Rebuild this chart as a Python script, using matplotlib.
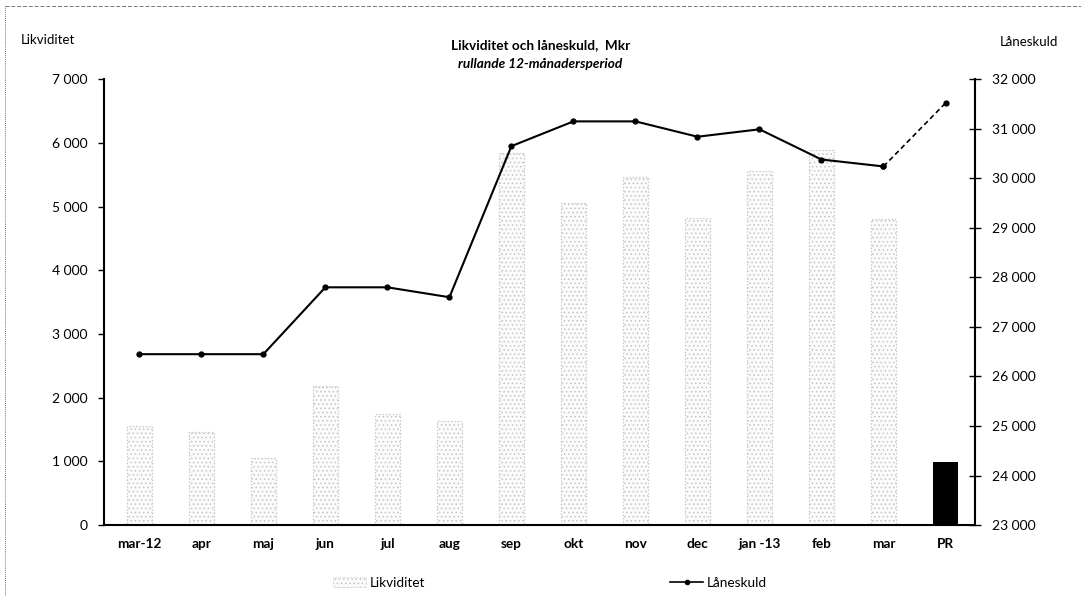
import matplotlib.pyplot as plt
from matplotlib.lines import Line2D
from matplotlib.patches import Patch

# data
months = ['mar-12', 'apr', 'maj', 'jun', 'jul', 'aug', 'sep', 'okt',
          'nov', 'dec', 'jan -13', 'feb', 'mar', 'PR']
likviditet = [1560, 1460, 1060, 2190, 1750, 1630, 5850, 5050,
              5470, 4820, 5560, 5890, 4800, 990]
laneskuld = [26450, 26450, 26450, 27800, 27800, 27600, 30650, 31150,
             31150, 30840, 30990, 30380, 30240, 31520]

left_ticks = [0, 1000, 2000, 3000, 4000, 5000, 6000, 7000]
right_ticks = [23000, 24000, 25000, 26000, 27000, 28000, 29000,
               30000, 31000, 32000]


def sv(v):
    return f'{v:,}'.replace(',', ' ')


plt.rcParams['font.family'] = ['Lato', 'DejaVu Sans']
plt.rcParams['hatch.linewidth'] = 0.6

fig = plt.figure(figsize=(10.81, 5.96), dpi=100)
ax = fig.add_axes([0.0962, 0.119, 0.806, 0.748])
ax2 = ax.twinx()

x = list(range(len(months)))
n = len(months) - 1

# stippled grey bars, last one (PR) solid black
ax.bar(x[:n], likviditet[:n], width=0.40, facecolor='#fbfbfb',
       edgecolor='#c4c4c4', hatch='....', linewidth=0.9, linestyle=':')
ax.bar(x[n], likviditet[n], width=0.40, color='black')

ax.set_ylim(0, 7000)
ax.set_xlim(-0.57, 13.48)
ax.set_yticks(left_ticks)
ax.set_yticklabels([sv(v) for v in left_ticks], fontsize=10)
ax.set_xticks(x)
ax.set_xticklabels(months, fontsize=9.8, fontweight='bold')
ax.tick_params(axis='x', length=0, pad=9)
ax.tick_params(axis='y', length=4, width=1, direction='out', pad=8)
for s in ['top', 'right']:
    ax.spines[s].set_visible(False)
ax.spines['left'].set_linewidth(1.5)
ax.spines['bottom'].set_linewidth(1.5)

# Låneskuld line, last step dashed
ax2.plot(x[:n], laneskuld[:n], color='black', lw=1.5,
         marker='o', markersize=3.5)
ax2.plot(x[n - 1:], laneskuld[n - 1:], color='black', lw=1.2,
         ls=(0, (3, 2)), marker='o', markersize=3.5)
ax2.set_ylim(23000, 32000)
ax2.set_yticks(right_ticks)
ax2.set_yticklabels([sv(v) for v in right_ticks], fontsize=10)
ax2.tick_params(axis='y', length=8, width=1, direction='inout', pad=8)
for s in ['top', 'left', 'bottom']:
    ax2.spines[s].set_visible(False)
ax2.spines['right'].set_linewidth(1.5)

# titles and axis captions
fig.text(0.5, 0.925, 'Likviditet och låneskuld,  Mkr', ha='center',
         va='center', fontsize=9.8, fontweight='bold')
fig.text(0.5, 0.893, 'rullande 12-månadersperiod', ha='center',
         va='center', fontsize=9.8, fontweight='bold', style='italic')
fig.text(0.019, 0.933, 'Likviditet', ha='left', va='center', fontsize=9.5)
fig.text(0.925, 0.929, 'Låneskuld', ha='left', va='center', fontsize=9.5)

handles = [Patch(facecolor='#fbfbfb', edgecolor='#c4c4c4', hatch='....',
                 linewidth=0.6, linestyle=':'),
           Line2D([], [], color='black', lw=1.2, marker='o', markersize=3)]
fig.legend(handles, ['Likviditet', 'Låneskuld'], loc='center',
           bbox_to_anchor=(0.509, 0.022), ncol=2, frameon=False,
           fontsize=9.8, columnspacing=18, handlelength=2.4,
           handletextpad=0.3)

# dashed frame remnant along top and left
fig.add_artist(Line2D([0.005, 1.0], [0.99, 0.99], color='#777777', lw=0.7,
                      ls=(0, (4, 2)), transform=fig.transFigure))
fig.add_artist(Line2D([0.005, 0.005], [0.0, 0.99], color='#777777', lw=0.7,
                      ls=(0, (1, 1)), transform=fig.transFigure))

fig.savefig('out.png', dpi=100)
